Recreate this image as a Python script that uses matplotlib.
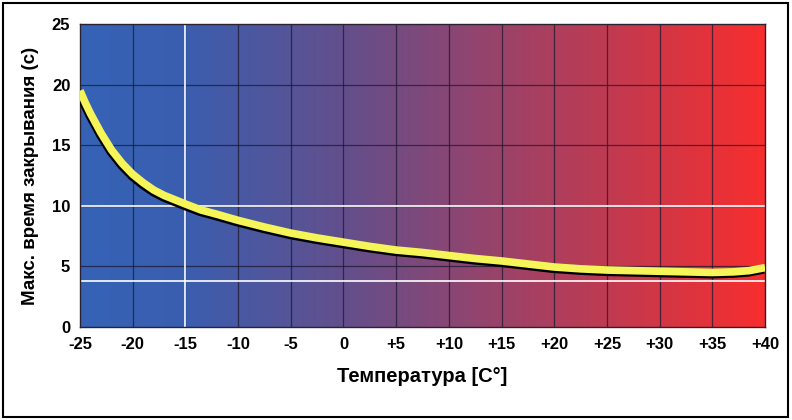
import matplotlib
matplotlib.use('Agg')
import matplotlib.pyplot as plt
import matplotlib.patheffects as pe
import numpy as np
from matplotlib.colors import LinearSegmentedColormap
from matplotlib.patches import Rectangle

plt.rcParams['font.family'] = ['Liberation Sans', 'DejaVu Sans']
plt.rcParams['font.weight'] = 'bold'

# curve
temps = [-25, -24.5, -24, -23.5, -23, -22.5, -22, -21, -20, -19, -18, -17, -16, -15,
         -13.5, -12, -11, -10, -7.5, -5, -2.5, 0, 2.5, 5, 7.5, 10, 12.5, 15, 17.5, 20,
         22.5, 25, 27.5, 30, 32.5, 35, 37, 38.5, 40]
close_time = [19.5, 18.5, 17.6, 16.8, 16.0, 15.3, 14.6, 13.5, 12.6, 11.9, 11.3, 10.85, 10.5, 10.15,
              9.65, 9.3, 9.05, 8.8, 8.25, 7.75, 7.35, 7.0, 6.65, 6.35, 6.15, 5.9, 5.65, 5.45, 5.2, 4.95,
              4.8, 4.7, 4.65, 4.6, 4.55, 4.5, 4.55, 4.65, 4.9]

xticks = [-25, -20, -15, -10, -5, 0, 5, 10, 15, 20, 25, 30, 35, 40]
xlabels = ['-25', '-20', '-15', '-10', '-5', '0', '+5', '+10', '+15', '+20', '+25', '+30', '+35', '+40']
yticks = [0, 5, 10, 15, 20, 25]

fig = plt.figure(figsize=(7.92, 4.2), dpi=100)
ax = fig.add_axes([0.101, 0.2214, 0.865, 0.7215])

cmap = LinearSegmentedColormap.from_list('temp', [(0.0, '#3563b6'), (0.15, '#3a5eaf'),
                                                  (0.385, '#634f8c'), (1.0, '#f72e2e')])
grad = np.linspace(0, 1, 512).reshape(1, -1)
ax.imshow(grad, cmap=cmap, aspect='auto', extent=[-25, 40, 0, 25], zorder=0)

for x in xticks[1:-1]:
    ax.axvline(x, color='#1c1830', lw=0.9, alpha=0.75, zorder=1)
for y in yticks[1:-1]:
    ax.axhline(y, color='#1c1830', lw=0.9, alpha=0.75, zorder=1)

ax.axvline(-15, color='white', lw=1.2, zorder=2)
ax.axhline(10, color='white', lw=1.2, zorder=2)
ax.axhline(3.8, color='white', lw=1.2, zorder=2)

# yellow curve with a black shadow down-left
ax.plot(temps, close_time, color='#f5f55a', lw=5.5, solid_capstyle='butt', solid_joinstyle='round',
        zorder=4, path_effects=[pe.SimpleLineShadow(offset=(-0.8, -1.6), shadow_color='black', alpha=1, rho=1),
                                pe.Normal()])

ax.set_xlim(-25, 40)
ax.set_ylim(0, 25)
ax.set_xticks(xticks)
ax.set_xticklabels(xlabels)
ax.set_yticks(yticks)
ax.tick_params(length=0, labelsize=12, pad=7)
for s in ax.spines.values():
    s.set_color('#2a2230')
    s.set_linewidth(1)

ax.set_xlabel('Температура [C°]', fontsize=14.5, fontweight='bold', labelpad=11)
ax.set_ylabel('Макс. время закрывания (с)', fontsize=13.5, fontweight='bold', labelpad=9)

fig.patches.append(Rectangle((0.004, 0.006), 0.991, 0.988, transform=fig.transFigure,
                             fill=False, edgecolor='black', lw=1.5))

fig.savefig('out.png', dpi=100)
